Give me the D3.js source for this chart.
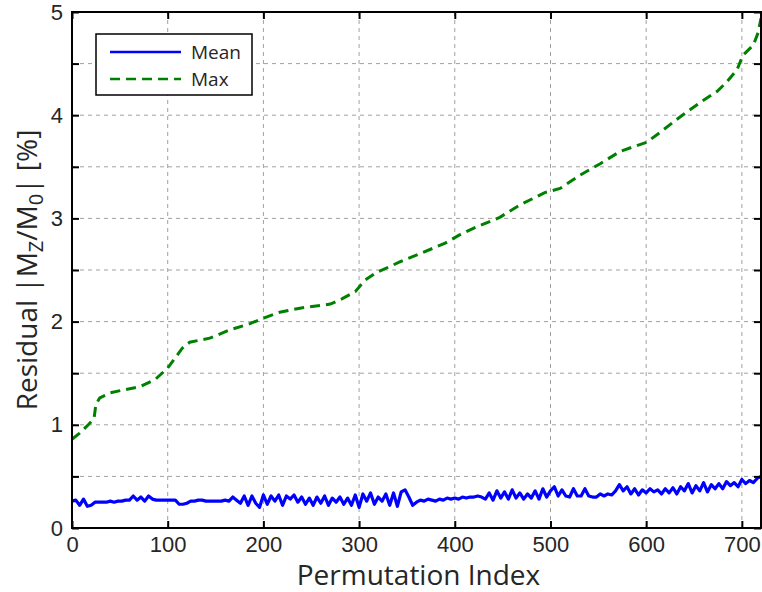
<!DOCTYPE html>
<html>
<head>
<meta charset="utf-8">
<script src="https://cdn.jsdelivr.net/npm/d3@7"></script>
<style>
  html, body { margin: 0; padding: 0; background: #fff; }
  svg { display: block; font-family: 'Open Sans', 'Noto Sans', sans-serif; }
</style>
</head>
<body>
<svg id="chart" width="762" height="592"></svg>
<script>
// Max residual, read at irregular indices along the sorted curve
const maxIndex = [0, 8, 17, 23, 25, 29, 40, 55, 71, 87, 100, 108, 115, 123, 144, 165, 186, 199,
  217, 238, 270, 282, 296, 306, 317, 343, 364, 390, 405, 421, 447, 468, 494, 510, 531, 552,
  573, 601, 614, 635, 656, 674, 684, 695, 701, 712, 717, 720];
const maxValues = [0.86, 0.92, 1.0, 1.06, 1.2, 1.26, 1.31, 1.34, 1.37, 1.44, 1.55, 1.65, 1.74, 1.80,
  1.84, 1.92, 1.98, 2.03, 2.09, 2.13, 2.17, 2.22, 2.29, 2.40, 2.47, 2.58, 2.66, 2.76, 2.84, 2.91,
  3.01, 3.13, 3.25, 3.29, 3.42, 3.53, 3.65, 3.74, 3.83, 3.98, 4.12, 4.23, 4.32, 4.44, 4.58, 4.68,
  4.80, 4.94];

// Mean residual, read every 4 permutations (index 0..720)
const meanStep = 4;
const meanValues = [
  0.26, 0.27, 0.22, 0.28, 0.21, 0.22, 0.25, 0.25, 0.25, 0.25, 0.26, 0.25, 0.26, 0.26, 0.27, 0.27,
  0.31, 0.27, 0.30, 0.26, 0.31, 0.28, 0.27, 0.27, 0.27, 0.27, 0.27, 0.27, 0.23, 0.23, 0.24, 0.26,
  0.26, 0.27, 0.27, 0.26, 0.26, 0.26, 0.26, 0.26, 0.27, 0.26, 0.30, 0.27, 0.24, 0.31, 0.22, 0.31,
  0.24, 0.20, 0.32, 0.23, 0.31, 0.26, 0.32, 0.22, 0.31, 0.28, 0.32, 0.25, 0.30, 0.23, 0.29, 0.22,
  0.30, 0.24, 0.31, 0.22, 0.29, 0.25, 0.30, 0.23, 0.29, 0.22, 0.32, 0.20, 0.33, 0.26, 0.34, 0.23,
  0.30, 0.26, 0.33, 0.22, 0.34, 0.21, 0.35, 0.37, 0.30, 0.22, 0.25, 0.27, 0.26, 0.28, 0.27, 0.26,
  0.28, 0.27, 0.29, 0.28, 0.29, 0.28, 0.30, 0.29, 0.30, 0.30, 0.31, 0.30, 0.28, 0.34, 0.27, 0.36,
  0.29, 0.35, 0.28, 0.37, 0.29, 0.34, 0.28, 0.33, 0.29, 0.36, 0.28, 0.38, 0.30, 0.36, 0.40, 0.31,
  0.37, 0.31, 0.30, 0.38, 0.31, 0.31, 0.38, 0.31, 0.30, 0.30, 0.33, 0.31, 0.33, 0.32, 0.36, 0.42,
  0.36, 0.40, 0.33, 0.38, 0.32, 0.37, 0.34, 0.38, 0.35, 0.37, 0.33, 0.38, 0.34, 0.39, 0.33, 0.40,
  0.36, 0.43, 0.34, 0.41, 0.36, 0.44, 0.35, 0.42, 0.38, 0.43, 0.38, 0.45, 0.41, 0.44, 0.40, 0.47,
  0.43, 0.46, 0.44, 0.48, 0.50];

const xTicks = [0, 100, 200, 300, 400, 500, 600, 700];
const yTicks = [0, 0.5, 1, 1.5, 2, 2.5, 3, 3.5, 4, 4.5, 5];
const legendLabels = ['Mean', 'Max'];

const margin = { left: 72, top: 12, right: 1, bottom: 64 };
const width = 762, height = 592;
const svg = d3.select('#chart');

const x = d3.scaleLinear().domain([0, 720]).range([margin.left, width - margin.right]);
const y = d3.scaleLinear().domain([0, 5]).range([height - margin.bottom, margin.top]);

const textColor = '#262626';

// grid
svg.append('g')
  .selectAll('line')
  .data(xTicks.filter(d => d > 0))
  .enter().append('line')
  .attr('x1', d => x(d)).attr('x2', d => x(d))
  .attr('y1', y(0)).attr('y2', y(5))
  .attr('stroke', '#a0a0a0').attr('stroke-width', 1).attr('stroke-dasharray', '4,4');

svg.append('g')
  .selectAll('line')
  .data(yTicks.filter(d => d > 0 && d < 5))
  .enter().append('line')
  .attr('x1', x(0)).attr('x2', x(720))
  .attr('y1', d => y(d)).attr('y2', d => y(d))
  .attr('stroke', '#a0a0a0').attr('stroke-width', 1).attr('stroke-dasharray', '4,4');

// series
const meanData = meanValues.map((v, i) => [i * meanStep, v]);
const maxData = maxIndex.map((d, i) => [d, maxValues[i]]);

const line = d3.line().x(d => x(d[0])).y(d => y(d[1]));

svg.append('path')
  .datum(meanData)
  .attr('d', line)
  .attr('fill', 'none')
  .attr('stroke', '#0000ff')
  .attr('stroke-width', 3.2)
  .attr('stroke-linejoin', 'round');

svg.append('path')
  .datum(maxData)
  .attr('d', line)
  .attr('fill', 'none')
  .attr('stroke', '#008000')
  .attr('stroke-width', 3)
  .attr('stroke-dasharray', '10,6');

// axes with inward ticks on all four sides
const tickLen = 7;
const xBottom = d3.axisBottom(x).tickValues(xTicks).tickSizeInner(-tickLen).tickSizeOuter(0).tickPadding(8);
const xTop = d3.axisTop(x).tickValues(xTicks).tickSizeInner(-tickLen).tickSizeOuter(0).tickFormat('');
const yLeft = d3.axisLeft(y).tickValues(yTicks).tickSizeInner(-tickLen).tickSizeOuter(0).tickPadding(9)
  .tickFormat(d => Number.isInteger(d) ? d : '');
const yRight = d3.axisRight(y).tickValues(yTicks).tickSizeInner(-tickLen).tickSizeOuter(0).tickFormat('');

function styleAxis(g) {
  g.select('.domain').remove();
  g.selectAll('.tick line').attr('stroke', '#000').attr('stroke-width', 2);
  g.selectAll('.tick text').attr('fill', textColor).style('font-size', '22px');
}

svg.append('g').attr('transform', `translate(0,${y(0)})`).call(xBottom).call(styleAxis);
svg.append('g').attr('transform', `translate(0,${y(5)})`).call(xTop).call(styleAxis);
svg.append('g').attr('transform', `translate(${x(0)},0)`).call(yLeft).call(styleAxis);
svg.append('g').attr('transform', `translate(${x(720)},0)`).call(yRight).call(styleAxis);

// box
svg.append('rect')
  .attr('x', x(0)).attr('y', y(5))
  .attr('width', x(720) - x(0)).attr('height', y(0) - y(5))
  .attr('fill', 'none').attr('stroke', '#000').attr('stroke-width', 2);

// axis titles
svg.append('text')
  .attr('x', (x(0) + x(720)) / 2 + 2)
  .attr('y', 585)
  .attr('text-anchor', 'middle')
  .attr('fill', textColor)
  .style('font-size', '28px')
  .text('Permutation Index');

const yTitle = svg.append('text')
  .attr('transform', `translate(37,${(y(0) + y(5)) / 2}) rotate(-90)`)
  .attr('text-anchor', 'middle')
  .attr('fill', textColor)
  .style('font-size', '28px');
yTitle.append('tspan').text('Residual |M');
yTitle.append('tspan').attr('dy', 6).style('font-size', '20px').text('Z');
yTitle.append('tspan').attr('dy', -6).text('/M');
yTitle.append('tspan').attr('dy', 6).style('font-size', '20px').text('0');
yTitle.append('tspan').attr('dy', -6).text('|  [%]');

// legend
const legend = svg.append('g').attr('transform', 'translate(96,34)');
legend.append('rect')
  .attr('width', 156).attr('height', 61)
  .attr('fill', '#fff').attr('stroke', '#000').attr('stroke-width', 1.5);

const legendItems = legend.selectAll('.legend-item')
  .data(legendLabels)
  .enter().append('g')
  .attr('class', 'legend-item')
  .attr('transform', (d, i) => `translate(0,${18 + i * 27})`);

legendItems.append('line')
  .attr('x1', 14).attr('x2', 85)
  .attr('stroke', (d, i) => i === 0 ? '#0000ff' : '#008000')
  .attr('stroke-width', 2.5)
  .attr('stroke-dasharray', (d, i) => i === 0 ? null : '10,6');

legendItems.append('text')
  .attr('x', 95)
  .attr('dy', '0.35em')
  .attr('fill', textColor)
  .style('font-size', '19px')
  .text(d => d);
</script>
</body>
</html>
